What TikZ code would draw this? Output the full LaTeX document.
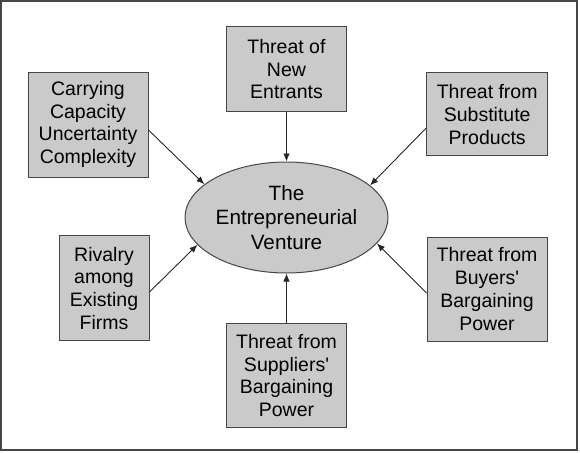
\documentclass[tikz,border=0pt]{standalone}
\usepackage{fontspec}
\setmainfont{Liberation Sans}
\usetikzlibrary{shapes.geometric,arrows.meta}
\definecolor{boxfill}{RGB}{202,202,202}
\definecolor{boxline}{RGB}{70,70,70}
\tikzset{
  forcebox/.style={draw=boxline, line width=1pt, fill=boxfill, align=center,
    inner sep=0pt, font=\fontsize{19.5}{22.8}\selectfont},
  venture/.style={ellipse, draw=boxline, line width=1pt, fill=boxfill, align=center,
    inner sep=0pt, minimum width=203pt, minimum height=111pt,
    font=\fontsize{20.7}{24.5}\selectfont},
  conn/.style={draw=black!85, line width=0.9pt, -{Latex[length=8pt,width=6.5pt]}},
}
\begin{document}
\begin{tikzpicture}[x=1pt,y=-1pt]
\useasboundingbox (0,0) rectangle (580,452);
\draw[draw=boxline, line width=1.5pt] (1,1) rectangle (577,450);

\node[venture] (ell) at (286.5,217.5) {The\\Entrepreneurial\\Venture};

\node[forcebox, minimum width=120pt, minimum height=105pt] (carry) at (88,124.5)
  {Carrying\\Capacity\\Uncertainty\\Complexity};
\node[forcebox, minimum width=120pt, minimum height=85pt] (entr) at (286.5,69.2)
  {Threat of\\New\\Entrants};
\node[forcebox, minimum width=121pt, minimum height=83pt] (subst) at (487.2,114.3)
  {Threat from\\Substitute\\Products};
\node[forcebox, minimum width=90pt, minimum height=105pt] (rival) at (104,288.3)
  {Rivalry\\among\\Existing\\Firms};
\node[forcebox, minimum width=120pt, minimum height=104pt] (buyers) at (487,289)
  {Threat from\\Buyers\textquotesingle\\Bargaining\\Power};
\node[forcebox, minimum width=120pt, minimum height=104pt] (suppl) at (286.5,375.5)
  {Threat from\\Suppliers\textquotesingle\\Bargaining\\Power};

\draw[conn] ([yshift=-5.5pt]carry.east) -- (ell.158);
\draw[conn] (entr.south) -- (ell.north);
\draw[conn] ([yshift=-13.7pt]subst.west) -- (ell.21);
\draw[conn] ([yshift=-3.7pt]rival.east) -- (ell.197);
\draw[conn] ([yshift=-4pt]buyers.west) -- (ell.344);
\draw[conn] (suppl.north) -- (ell.south);
\end{tikzpicture}
\end{document}
